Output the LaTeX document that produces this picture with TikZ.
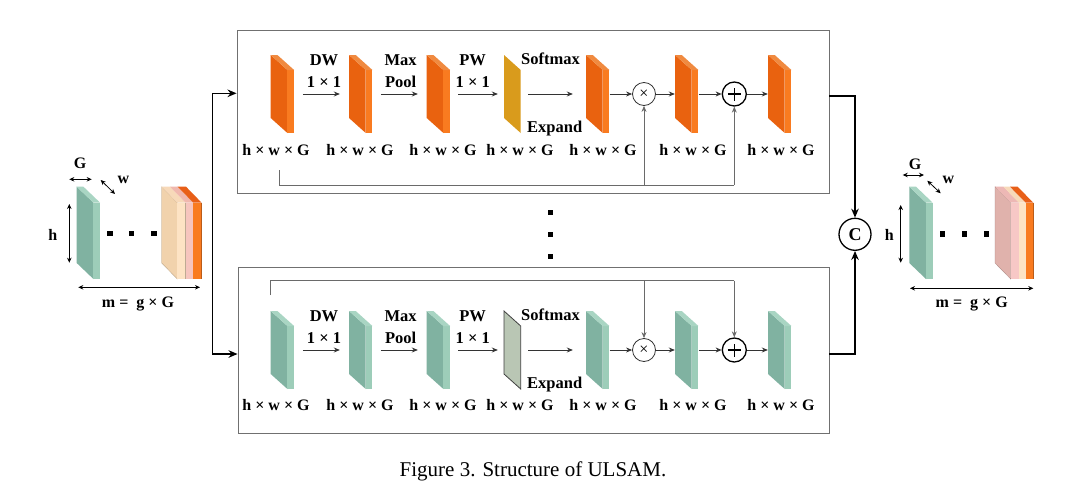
\documentclass[tikz,border=0pt]{standalone}
\usepackage{fontspec}
\setmainfont{Liberation Serif}
\usetikzlibrary{arrows.meta,calc}
\definecolor{orF}{HTML}{E9620F}
\definecolor{orS}{HTML}{F97B20}
\definecolor{orT}{HTML}{F08A40}
\definecolor{tlF}{HTML}{80B2A1}
\definecolor{tlS}{HTML}{9DCDB9}
\definecolor{tlT}{HTML}{A9D5C3}
\definecolor{goldc}{HTML}{D99B1C}
\definecolor{grsc}{HTML}{B9C6B4}
\definecolor{boxc}{HTML}{707070}
\definecolor{lnc}{HTML}{333333}
\definecolor{skc}{HTML}{6A6A6A}
\definecolor{bgA}{HTML}{F1D2AC}
\definecolor{bgB}{HTML}{FDE3C4}
\definecolor{bgBt}{HTML}{F7D9B9}
\definecolor{pkA}{HTML}{F6C5BE}
\definecolor{pkAt}{HTML}{F0B8AE}
\definecolor{orSt}{HTML}{E85F18}
\definecolor{mvA}{HTML}{E0B2AC}
\definecolor{pkB}{HTML}{F7C8C6}
\definecolor{pkBt}{HTML}{EDB8B5}
\newcommand{\slabg}[9]{%
  \fill[#7] (#1,#2) -- ({#1+#3},{#2+#4}) -- ({#1+#3},{#2+#4+#5}) -- (#1,{#2+#5}) -- cycle;
  \fill[#8] ({#1+#3},{#2+#4}) rectangle ({#1+#3+#6},{#2+#4+#5});
  \fill[#9] (#1,#2) -- ({#1+#6},#2) -- ({#1+#3+#6},{#2+#4}) -- ({#1+#3},{#2+#4}) -- cycle;}
\newcommand{\pslab}[5]{%
  \slabg{#2}{#3}{16.7}{15}{63}{6.7}{#4F}{#4S}{#4T}%
  \node[slabnode] (#1) at ({#2+11.7},{#3+39}) {};}
\newcommand{\stripg}[7]{% x0 y0 dx a b front top
  \fill[#6] ({#1+#3+#4},{#2+16}) rectangle ({#1+#3+#5},{#2+92.3});
  \fill[#7] ({#1+#4},#2) -- ({#1+#5},#2) -- ({#1+#3+#5},{#2+16}) -- ({#1+#3+#4},{#2+16}) -- cycle;
  \draw[#6!75!black, line width=0.3pt] ({#1+#3+#5},{#2+16}) -- ({#1+#3+#5},{#2+92.3});}
\tikzset{
  slabnode/.style={inner sep=0pt, minimum width=23.4pt, minimum height=78pt},
  lab/.style={font=\fontsize{16.5}{18}\selectfont\bfseries, inner sep=0pt},
  dimlab/.style={font=\fontsize{16}{18}\selectfont\bfseries, inner sep=0pt},
  panel/.style={draw=boxc, line width=0.9pt, inner sep=0pt},
  arr/.style={draw=lnc, line width=0.8pt, -{Stealth[length=6pt,width=5pt]}},
  dimarr/.style={draw=black, line width=0.8pt, {Stealth[length=5pt,width=4.5pt]}-{Stealth[length=5pt,width=4.5pt]}},
  skip/.style={draw=skc, line width=0.8pt},
  skiparr/.style={draw=skc, line width=0.8pt, -{Stealth[length=6pt,width=5pt]}},
  bigl/.style={draw=black, line width=1.6pt},
  bigarr/.style={draw=black, line width=1.6pt, -{Stealth[length=9pt,width=7.5pt]}},
  timesc/.style={circle, draw=lnc, line width=0.8pt, minimum size=23pt, inner sep=0pt, font=\fontsize{16}{16}\selectfont},
  plusc/.style={circle, draw=black, line width=1.3pt, minimum size=24pt, inner sep=0pt},
  dotsq/.style={fill=black}
}
\begin{document}
\begin{tikzpicture}[x=1pt,y=-1pt]
\useasboundingbox[fill=white] (0,0) rectangle (1080,498);

% ---------- panels ----------
\node[panel, minimum width=592pt, minimum height=163pt] (P1) at (533,111.5) {};
\node[panel, minimum width=591pt, minimum height=166pt] (P2) at (533.5,350) {};

% ---------- top panel slabs ----------
\pslab{a1}{270.7}{55}{or}{}
\pslab{a2}{349}{55}{or}{}
\pslab{a3}{426.7}{55}{or}{}
\fill[goldc] (504,55) -- (520.7,70) -- (520.7,133) -- (504,118) -- cycle;
\node[inner sep=0pt, minimum width=16.7pt, minimum height=78pt] (a4) at (512.35,94) {};
\pslab{a5}{586}{55}{or}{}
\pslab{a6}{675}{55}{or}{}
\pslab{a7}{768}{55}{or}{}
\node[timesc] (x1) at (644,94) {×};
\node[plusc] (p1) at (734.3,94) {};
\draw[line width=1.2pt] ([xshift=-6.5pt]p1.center) -- ([xshift=6.5pt]p1.center);
\draw[line width=1.2pt] ([yshift=-6.5pt]p1.center) -- ([yshift=6.5pt]p1.center);

\draw[arr, shorten <=8.6pt, shorten >=9pt] (a1) -- (a2);
\draw[arr, shorten <=8.3pt, shorten >=8.7pt] (a2) -- (a3);
\draw[arr, shorten <=7.9pt, shorten >=6pt] (a3) -- (a4);
\draw[arr, shorten <=7.3pt, shorten >=13pt] (a4) -- (a5);
\draw[arr] (a5) -- (x1);
\draw[arr] (x1) -- (a6);
\draw[arr] (a6) -- (p1);
\draw[arr] (p1) -- (a7);

\node[lab] (l1a) at (324,60) {DW};
\node[lab] (l1b) at (324,82) {1 × 1};
\node[lab] (l2a) at (400.7,60) {Max};
\node[lab] (l2b) at (400.7,82) {Pool};
\node[lab] (l3a) at (472.7,60) {PW};
\node[lab] (l3b) at (472.7,82) {1 × 1};
\node[lab] (l4a) at (550.5,59) {Softmax};
\node[lab] (l4b) at (554.7,128.3) {Expand};
\foreach \xx/\nn in {276/1,360/2,443/3,520/4,603/5,693/6,781/7}{
  \node[dimlab] (d\nn) at (\xx,150) {h × w × G};}

\coordinate (k0) at (279,170);
\coordinate (k1) at (279,185);
\draw[skip] (k0) -- (k1) -- (k1 -| p1);
\draw[skiparr] (k1 -| x1) -- (x1);
\draw[skiparr] (k1 -| p1) -- (p1);

% ---------- bottom panel slabs ----------
\pslab{b1}{270.7}{311}{tl}{}
\pslab{b2}{349}{311}{tl}{}
\pslab{b3}{426.7}{311}{tl}{}
\filldraw[fill=grsc, draw=black!75, line width=0.8pt] (504,311) -- (520.7,326) -- (520.7,389) -- (504,374) -- cycle;
\node[inner sep=0pt, minimum width=16.7pt, minimum height=78pt] (b4) at (512.35,350) {};
\pslab{b5}{586}{311}{tl}{}
\pslab{b6}{675}{311}{tl}{}
\pslab{b7}{768}{311}{tl}{}
\node[timesc] (x2) at (644,350) {×};
\node[plusc] (p2) at (734.3,350) {};
\draw[line width=1.2pt] ([xshift=-6.5pt]p2.center) -- ([xshift=6.5pt]p2.center);
\draw[line width=1.2pt] ([yshift=-6.5pt]p2.center) -- ([yshift=6.5pt]p2.center);

\draw[arr, shorten <=8.6pt, shorten >=9pt] (b1) -- (b2);
\draw[arr, shorten <=8.3pt, shorten >=8.7pt] (b2) -- (b3);
\draw[arr, shorten <=7.9pt, shorten >=6pt] (b3) -- (b4);
\draw[arr, shorten <=7.3pt, shorten >=13pt] (b4) -- (b5);
\draw[arr] (b5) -- (x2);
\draw[arr] (x2) -- (b6);
\draw[arr] (b6) -- (p2);
\draw[arr] (p2) -- (b7);

\node[lab] (m1a) at (324,316) {DW};
\node[lab] (m1b) at (324,338) {1 × 1};
\node[lab] (m2a) at (400.7,316) {Max};
\node[lab] (m2b) at (400.7,338) {Pool};
\node[lab] (m3a) at (472.7,316) {PW};
\node[lab] (m3b) at (472.7,338) {1 × 1};
\node[lab] (m4a) at (550.5,315) {Softmax};
\node[lab] (m4b) at (554.7,384.5) {Expand};
\foreach \xx/\nn in {276/1,360/2,443/3,520/4,603/5,693/6,781/7}{
  \node[dimlab] (e\nn) at (\xx,405) {h × w × G};}

\coordinate (q0) at (270.7,295);
\coordinate (q1) at (270.7,280.7);
\draw[skip] (q0) -- (q1) -- (q1 -| p2);
\draw[skiparr] (q1 -| x2) -- (x2);
\draw[skiparr] (q1 -| p2) -- (p2);

% ---------- middle dots ----------
\foreach \yy in {212.7,234.3,256.7}{
  \fill[dotsq] (548,{\yy-2.7}) rectangle (553.4,{\yy+2.7});}

% ---------- split / concat connectors ----------
\coordinate (ja) at (212.3,93.3);
\coordinate (jb) at (212.3,354);
\draw[bigl] (ja) -- (jb);
\draw[bigarr] (ja) -- (ja -| P1.west);
\draw[bigarr] (jb) -- (jb -| P2.west);

\node[circle, draw=black, line width=1.3pt, minimum size=32pt, inner sep=0pt, font=\fontsize{18}{18}\selectfont\bfseries] (C) at (855,234.3) {C};
\coordinate (ra) at (855,95.7);
\coordinate (rb) at (855,354);
\draw[bigarr] (ra -| P1.east) -- (ra) -- (C);
\draw[bigarr] (rb -| P2.east) -- (rb) -- (C);

% ---------- left input stack ----------
\slabg{76.7}{186.7}{16.7}{16}{76.3}{6.7}{tlF}{tlS}{tlT}
\foreach \xx in {110,131.7,154}{
  \fill[dotsq] ({\xx-2.7},230.6) rectangle ({\xx+2.7},236);}
\fill[bgA] (161.7,186.7) -- (177.3,202.7) -- (177.3,279) -- (161.7,263) -- cycle;
\draw[bgA!75!black, line width=0.3pt] (161.7,186.7) -- (177.3,202.7) -- (177.3,279) -- (161.7,263) -- cycle;
\stripg{161.7}{186.7}{15.6}{0}{8.3}{bgB}{bgBt}
\stripg{161.7}{186.7}{15.6}{8.3}{16}{pkA}{pkAt}
\stripg{161.7}{186.7}{15.6}{16}{24.3}{orS}{orSt}
\coordinate (gL1) at (69.3,179.3); \coordinate (gL2) at (91.7,179.3);
\coordinate (wL1) at (100.7,180); \coordinate (wL2) at (115,194);
\coordinate (hL1) at (69.3,204); \coordinate (hL2) at (69.3,262.7);
\coordinate (mL1) at (78.3,287.3); \coordinate (mL2) at (200,287.3);
\draw[dimarr] (gL1) -- (gL2);
\draw[dimarr] (wL1) -- (wL2);
\draw[dimarr] (hL1) -- (hL2);
\draw[dimarr] (mL1) -- (mL2);
\node[dimlab] (gLt) at (80,163.3) {G};
\node[dimlab] (wLt) at (123.3,180) {w};
\node[dimlab] (hLt) at (52.7,235) {h};
\node[dimlab] (mLt) at (138,304.3) {m =~ g × G};

% ---------- right output stack ----------
\slabg{909.3}{186.7}{16.7}{16}{76.3}{6.7}{tlF}{tlS}{tlT}
\foreach \xx in {942.7,964.3,986.7}{
  \fill[dotsq] ({\xx-2.7},231.3) rectangle ({\xx+2.7},236.7);}
\fill[mvA] (995,186.7) -- (1010.7,202.7) -- (1010.7,279) -- (995,263) -- cycle;
\draw[mvA!75!black, line width=0.3pt] (995,186.7) -- (1010.7,202.7) -- (1010.7,279) -- (995,263) -- cycle;
\stripg{995}{186.7}{15.7}{0}{8.3}{pkB}{pkBt}
\stripg{995}{186.7}{15.7}{8.3}{15}{bgB}{bgBt}
\stripg{995}{186.7}{15.7}{15}{22.6}{orS}{orSt}
\coordinate (gR1) at (902.7,175); \coordinate (gR2) at (924,175);
\coordinate (wR1) at (927.3,180.7); \coordinate (wR2) at (940.7,193.3);
\coordinate (hR1) at (900.7,205); \coordinate (hR2) at (900.7,262.7);
\coordinate (mR1) at (910,288.3); \coordinate (mR2) at (1033.3,288.3);
\draw[dimarr] (gR1) -- (gR2);
\draw[dimarr] (wR1) -- (wR2);
\draw[dimarr] (hR1) -- (hR2);
\draw[dimarr] (mR1) -- (mR2);
\node[dimlab] (gRt) at (915,164) {G};
\node[dimlab] (wRt) at (948.3,180) {w};
\node[dimlab] (hRt) at (889.3,235) {h};
\node[dimlab] (mRt) at (971.7,304) {m =~ g × G};

% ---------- caption ----------
\node[font=\fontsize{21}{24}\selectfont, inner sep=0pt] (cap) at (533,471.7) {Figure 3. Structure of ULSAM.};
\end{tikzpicture}
\end{document}
